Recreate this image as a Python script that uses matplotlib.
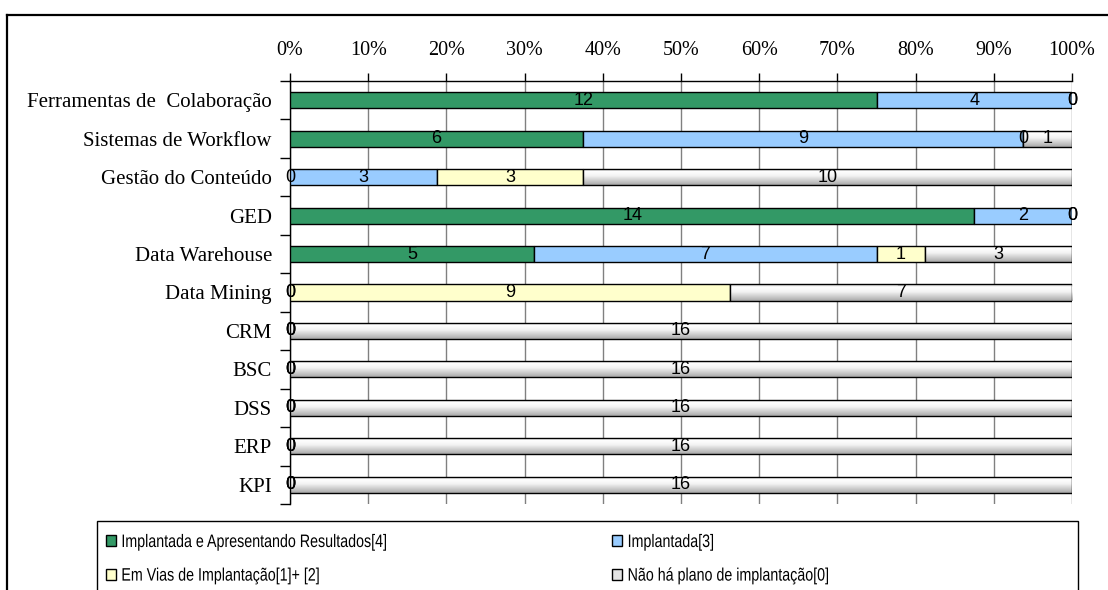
import numpy as np
import matplotlib
matplotlib.use("Agg")
import matplotlib.pyplot as plt
from matplotlib.patches import Rectangle, Patch
from matplotlib.colors import LinearSegmentedColormap
from matplotlib.lines import Line2D
from matplotlib.patheffects import AbstractPathEffect
from matplotlib.transforms import Affine2D

categories = ["Ferramentas de  Colaboração", "Sistemas de Workflow", "Gestão do Conteúdo",
              "GED", "Data Warehouse", "Data Mining", "CRM", "BSC", "DSS", "ERP", "KPI"]
implantada_resultados = [12, 6, 0, 14, 5, 0, 0, 0, 0, 0, 0]
implantada = [4, 9, 3, 2, 7, 0, 0, 0, 0, 0, 0]
em_vias = [0, 0, 3, 0, 1, 9, 0, 0, 0, 0, 0]
sem_plano = [0, 1, 10, 0, 3, 7, 16, 16, 16, 16, 16]
series_names = ["Implantada e Apresentando Resultados[4]", "Implantada[3]",
                "Em Vias de Implantação[1]+ [2]", "Não há plano de implantação[0]"]
x_ticks = [0, 10, 20, 30, 40, 50, 60, 70, 80, 90, 100]

colors = ["#339966", "#99CCFF", "#FFFFCC", None]
serif = "Liberation Serif"
sans = "Liberation Sans"


class Condensed(AbstractPathEffect):
    """Squeeze glyphs horizontally around the text origin (narrow sans look)."""

    def __init__(self, sx):
        super().__init__()
        self.sx = sx

    def draw_path(self, renderer, gc, tpath, affine, rgbFace=None):
        renderer.draw_path(gc, tpath, Affine2D().scale(self.sx, 1.0) + affine, rgbFace)


W, H = 1108, 590
fig = plt.figure(figsize=(W / 100, H / 100), dpi=100)
ax = fig.add_axes([290 / W, 1 - 504 / H, (1072 - 290) / W, (504 - 81) / H])

series = [implantada_resultados, implantada, em_vias, sem_plano]
data = np.array(series, dtype=float)
totals = data.sum(axis=0)
pct = data / totals * 100
y = np.arange(len(categories))
bar_h = 0.42

gray_cmap = LinearSegmentedColormap.from_list(
    "bar_gray", [(0.0, "#cfcfcf"), (0.18, "#ffffff"), (0.45, "#f4f4f4"), (1.0, "#a9a9a9")])
grad = np.linspace(0, 1, 64).reshape(-1, 1)

left = np.zeros(len(categories))
for s in range(4):
    widths = pct[s]
    if colors[s] is not None:
        ax.barh(y, widths, left=left, height=bar_h, color=colors[s],
                edgecolor="black", linewidth=1.0, zorder=3)
    else:
        bars = ax.barh(y, widths, left=left, height=bar_h, color="none",
                       edgecolor="black", linewidth=1.0, zorder=4)
        for b in bars:
            if b.get_width() <= 0:
                continue
            x0, y0 = b.get_x(), b.get_y()
            im = ax.imshow(grad, cmap=gray_cmap, aspect="auto", zorder=3,
                           extent=[x0, x0 + b.get_width(), y0 + bar_h, y0],
                           interpolation="bilinear")
            im.set_clip_path(b)
    for i in range(len(categories)):
        ax.text(left[i] + widths[i] / 2, y[i], f"{int(data[s, i])}",
                ha="center", va="center", fontsize=13, family=sans,
                color="black", zorder=6)
    left += widths

ax.set_xlim(0, 100)
ax.set_ylim(len(categories) - 0.5, -0.5)
ax.set_xticks(x_ticks)
ax.set_xticklabels([f"{t}%" for t in x_ticks], family=serif, fontsize=14.5)
ax.xaxis.tick_top()
ax.tick_params(axis="x", which="major", direction="out", length=6, width=1,
               color="black", pad=9)
ax.set_yticks(y)
ax.set_yticklabels(categories, family=serif, fontsize=15)
ax.set_yticks(np.arange(len(categories) + 1) - 0.5, minor=True)
ax.tick_params(axis="y", which="major", length=0, pad=13)
ax.tick_params(axis="y", which="minor", direction="out", length=7, width=1, color="black")
ax.grid(axis="x", color="#808080", linewidth=1, zorder=0)
ax.set_axisbelow(True)
for side in ["right", "bottom"]:
    ax.spines[side].set_visible(False)
for side in ["top", "left"]:
    ax.spines[side].set_color("black")
    ax.spines[side].set_linewidth(1)

# outer chart border (top and left visible)
fig.add_artist(Line2D([7 / W, 7 / W], [0, 1 - 15 / H], color="black", lw=1.6,
                      transform=fig.transFigure))
fig.add_artist(Line2D([7 / W, 1], [1 - 15 / H, 1 - 15 / H], color="black", lw=1.6,
                      transform=fig.transFigure))

# legend box
fig.add_artist(Rectangle((97 / W, -0.05), (1078 - 97) / W, (0.05 + 1 - 521 / H),
                         transform=fig.transFigure, fill=False, edgecolor="black", lw=1))
handles = [Patch(facecolor=colors[0], edgecolor="black", lw=1),
           Patch(facecolor=colors[1], edgecolor="black", lw=1),
           Patch(facecolor=colors[2], edgecolor="black", lw=1),
           Patch(facecolor="#e4e4e4", edgecolor="black", lw=1)]
order = [0, 2, 1, 3]
leg = fig.legend([handles[k] for k in order], [series_names[k] for k in order],
                 loc="upper left", ncol=2,
                 bbox_to_anchor=(106 / W, 1 - 534 / H), frameon=False,
                 prop={"family": sans, "size": 13}, handlelength=0.55, handleheight=0.55,
                 handletextpad=0.3, columnspacing=8.6, labelspacing=0.92,
                 borderpad=0, borderaxespad=0)
for t in leg.get_texts():
    t.set_path_effects([Condensed(0.79)])

fig.savefig("out.png", dpi=100)
